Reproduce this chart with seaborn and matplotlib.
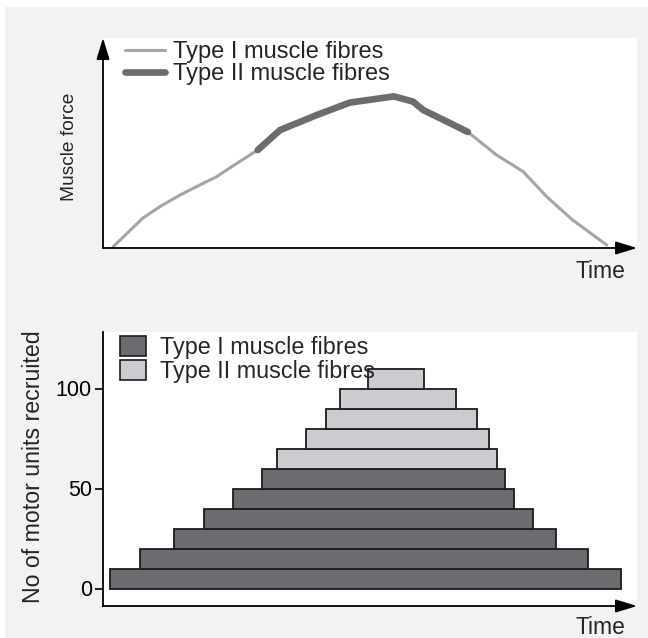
import matplotlib
matplotlib.use("Agg")
import matplotlib.pyplot as plt
import numpy as np
import pandas as pd
import seaborn as sns
from matplotlib.lines import Line2D
from matplotlib.patches import Patch, Rectangle

# ---------------- data ----------------
# Top panel: muscle force over time (arbitrary units)
time_pts = [1.9, 7.5, 10.7, 14.5, 18.2, 21.4, 24.4, 29.1, 33.3, 37.0, 40.2,
            46.4, 54.7, 58.3, 60.2, 65.2, 68.6, 74.0, 79.0, 83.4, 88.3, 94.7]
force_pts = [0.6, 15.0, 20.7, 26.5, 31.5, 35.7, 41.0, 49.0, 59.0, 63.0, 66.5,
             72.7, 75.8, 73.2, 69.0, 62.5, 58.0, 46.5, 38.2, 25.7, 14.0, 1.5]
type2_start = 29.1
type2_end = 68.6

# Bottom panel: motor units recruited (bars of 10 units each)
units_level = [0, 10, 20, 30, 40, 50, 60, 70, 80, 90, 100]
bar_start = [1.3, 7.0, 13.3, 19.0, 24.5, 29.9, 32.7, 38.1, 42.0, 44.5, 49.8]
bar_end = [97.4, 91.2, 85.2, 80.9, 77.3, 75.5, 74.1, 72.6, 70.3, 66.4, 60.3]
bar_type = ["Type I"] * 6 + ["Type II"] * 5
y_ticks = [0, 50, 100]

legend_labels = ["Type I muscle fibres", "Type II muscle fibres"]

# ---------------- style ----------------
sns.set_style("white")
plt.rcParams["font.family"] = ["Liberation Sans", "DejaVu Sans"]

W, H = 648, 638
fig = plt.figure(figsize=(W / 100, H / 100), dpi=100, facecolor="white")
fig.patches.append(Rectangle((5 / W, 0), 1, 1 - 7 / H, transform=fig.transFigure,
                             facecolor="#f1f2f3", edgecolor="none", zorder=-10))

def px_axes(x0, y0, x1, y1):
    return fig.add_axes([x0 / W, 1 - y1 / H, (x1 - x0) / W, (y1 - y0) / H])

light_line = "#a4a5a7"
dark_line = "#6b6c70"
dark_bar = "#6b6c70"
light_bar = "#cbcccf"
edge = "#1c1c1c"

arrow_kw = dict(arrowstyle="-|>,head_length=0.65,head_width=0.2", lw=1.3,
                color="black", shrinkA=0, shrinkB=0, mutation_scale=20)

# ---------------- top panel ----------------
ax1 = px_axes(103, 38, 637, 248)
ax1.set_facecolor("white")
df = pd.DataFrame({"time": time_pts, "force": force_pts})
sns.lineplot(data=df, x="time", y="force", ax=ax1, color=light_line, lw=2.2,
             sort=False, zorder=2)
df2 = df[(df["time"] >= type2_start) & (df["time"] <= type2_end)]
sns.lineplot(data=df2, x="time", y="force", ax=ax1, color=dark_line, lw=4.8,
             sort=False, zorder=3, solid_capstyle="round")
ax1.set_xlim(0, 100.4)
ax1.set_ylim(0, 105)
ax1.set_xticks([])
ax1.set_yticks([])
for s in ax1.spines.values():
    s.set_visible(False)
ax1.annotate("", xy=(1, 0), xytext=(0, 0), xycoords="axes fraction",
             arrowprops=arrow_kw, annotation_clip=False)
ax1.annotate("", xy=(0, 1), xytext=(0, 0), xycoords="axes fraction",
             arrowprops=arrow_kw, annotation_clip=False)
ax1.set_xlabel("Time", fontsize=16.5)
ax1.xaxis.set_label_coords((600 - 103) / 534, (248 - 272) / 210)
ax1.xaxis.label.set(va="center", ha="center")
ax1.set_ylabel("Muscle force", fontsize=13.8)
ax1.yaxis.set_label_coords((69.5 - 103) / 534, (248 - 147) / 210)
ax1.yaxis.label.set(va="center", ha="center")

h1 = [Line2D([], [], color=light_line, lw=2.2),
      Line2D([], [], color=dark_line, lw=4.8)]
ax1.legend(h1, legend_labels, loc="upper left",
           bbox_to_anchor=(125 / W, 1 - 41 / H), bbox_transform=fig.transFigure,
           frameon=False, borderpad=0, borderaxespad=0, labelspacing=0.02,
           handlelength=1.7, handletextpad=0.33,
           prop={"family": "Liberation Sans", "size": 17})

# ---------------- bottom panel ----------------
ax2 = px_axes(103, 332, 637, 606)
ax2.set_facecolor("white")
colors = [dark_bar if t == "Type I" else light_bar for t in bar_type]
widths = [e - s for s, e in zip(bar_start, bar_end)]
ax2.barh(y=units_level, width=widths, left=bar_start, height=10, align="edge",
         color=colors, edgecolor=edge, linewidth=1.3, zorder=2)
ax2.set_xlim(0, 100.4)
ax2.set_ylim(-8.75, 128.25)
ax2.set_xticks([])
ax2.set_yticks(y_ticks)
ax2.set_yticklabels([str(v) for v in y_ticks])
ax2.tick_params(axis="y", left=True, length=6, width=1.2, pad=2,
                labelsize=15.5, colors="black")
for k in ["top", "right", "bottom"]:
    ax2.spines[k].set_visible(False)
ax2.spines["left"].set(color="black", linewidth=1.3)
ax2.annotate("", xy=(1, 0), xytext=(0, 0), xycoords="axes fraction",
             arrowprops=arrow_kw, annotation_clip=False)
ax2.set_xlabel("Time", fontsize=16.5)
ax2.xaxis.set_label_coords((600 - 103) / 534, (606 - 627) / 274)
ax2.xaxis.label.set(va="center", ha="center")
ax2.set_ylabel("No of motor units recruited", fontsize=16.7)
ax2.yaxis.set_label_coords((33.5 - 103) / 534, (606 - 466.5) / 274)
ax2.yaxis.label.set(va="center", ha="center")

h2 = [Patch(facecolor=dark_bar, edgecolor=edge, linewidth=1.2),
      Patch(facecolor=light_bar, edgecolor=edge, linewidth=1.2)]
leg2 = ax2.legend(h2, legend_labels, loc="upper left",
                  bbox_to_anchor=(120 / W, 1 - 336 / H), bbox_transform=fig.transFigure,
                  frameon=False, borderpad=0, borderaxespad=0, labelspacing=0.05,
                  handlelength=1.1, handleheight=0.9, handletextpad=0.6,
                  prop={"family": "Liberation Sans", "size": 16.8})
leg2.set_zorder(5)

fig.savefig("out.png", dpi=100, facecolor=fig.get_facecolor())
